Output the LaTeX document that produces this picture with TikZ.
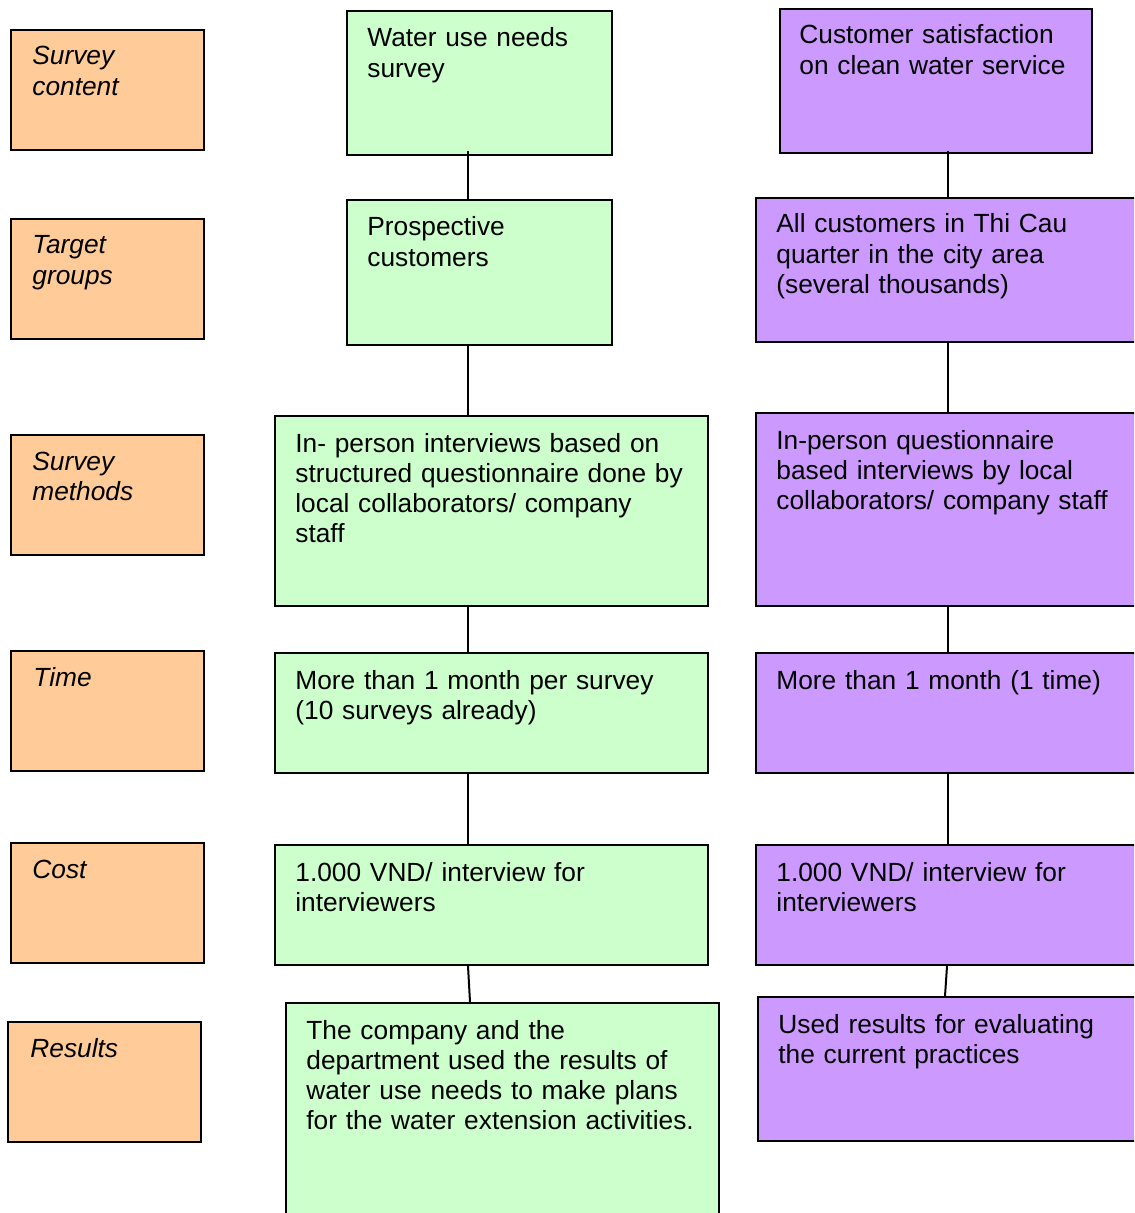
\documentclass[tikz,border=0pt]{standalone}
\usepackage{fontspec}
\setmainfont{Liberation Sans}
\usetikzlibrary{fit,calc}
\definecolor{rowhead}{HTML}{FFCC99}
\definecolor{needs}{HTML}{CCFFCC}
\definecolor{satis}{HTML}{CC99FF}
\begin{document}
\begin{tikzpicture}[x=0.5pt,y=-0.5pt,
  cell/.style={draw=black, line width=1pt, inner sep=0pt},
  head/.style={cell, fill=rowhead},
  gbox/.style={cell, fill=needs},
  pbox/.style={cell, fill=satis},
  txt/.style={anchor=base west, inner sep=0pt, text width=300pt, align=left,
    font=\fontsize{13.15pt}{15.15pt}\selectfont},
  itxt/.style={txt, font=\fontsize{13.15pt}{15.15pt}\selectfont\itshape},
  link/.style={draw=black, line width=1pt}]
\clip (0,0) rectangle (1134,1213);
\fill[white] (0,0) rectangle (1134,1213);

% row headings
\node[head, fit={(11,30) (204,150)}]   (h1) {};
\node[head, fit={(11,219) (204,339)}]  (h2) {};
\node[head, fit={(11,435) (204,555)}]  (h3) {};
\node[head, fit={(11,651) (204,771)}]  (h4) {};
\node[head, fit={(11,843) (204,963)}]  (h5) {};
\node[head, fit={(8,1022) (201,1142)}] (h6) {};
\node[itxt] (h1t) at ($(h1.north west)+(22,36)$) {Survey\\content};
\node[itxt] (h2t) at ($(h2.north west)+(22,36)$) {Target\\groups};
\node[itxt] (h3t) at ($(h3.north west)+(22,36)$) {Survey\\methods};
\node[itxt] (h4t) at ($(h4.north west)+(23,36)$) {Time};
\node[itxt] (h5t) at ($(h5.north west)+(22,36)$) {Cost};
\node[itxt] (h6t) at ($(h6.north west)+(23,36)$) {Results};

% water use needs survey
\node[gbox, fit={(347,11) (612,155)}]   (g1) {};
\node[gbox, fit={(347,200) (612,345)}]  (g2) {};
\node[gbox, fit={(275,416) (708,606)}]  (g3) {};
\node[gbox, fit={(275,653) (708,773)}]  (g4) {};
\node[gbox, fit={(275,845) (708,965)}]  (g5) {};
\node[gbox, fit={(286,1003) (719,1230)}] (g6) {};
\node[txt] (g1t) at ($(g1.north west)+(21,37)$) {Water use needs\\survey};
\node[txt] (g2t) at ($(g2.north west)+(21,37)$) {Prospective\\customers};
\node[txt] (g3t) at ($(g3.north west)+(21,37)$) {In- person interviews based on\\structured questionnaire done by\\local collaborators/ company\\staff};
\node[txt] (g4t) at ($(g4.north west)+(21,37)$) {More than 1 month per survey\\(10 surveys already)};
\node[txt] (g5t) at ($(g5.north west)+(21,37)$) {1.000 VND/ interview for\\interviewers};
\node[txt] (g6t) at ($(g6.north west)+(21,37)$) {The company and the\\department used the results of\\water use needs to make plans\\for the water extension activities.};

% customer satisfaction survey
\node[pbox, fit={(780,9) (1092,153)}]    (p1) {};
\node[pbox, fit={(756,198) (1150,342)}]  (p2) {};
\node[pbox, fit={(756,413) (1150,606)}]  (p3) {};
\node[pbox, fit={(756,653) (1150,773)}]  (p4) {};
\node[pbox, fit={(756,845) (1150,965)}]  (p5) {};
\node[pbox, fit={(758,997) (1150,1141)}] (p6) {};
\node[txt] (p1t) at ($(p1.north west)+(20,36)$) {Customer satisfaction\\on clean water service};
\node[txt] (p2t) at ($(p2.north west)+(21,36)$) {All customers in Thi Cau\\quarter in the city area\\(several thousands)};
\node[txt] (p3t) at ($(p3.north west)+(21,37)$) {In-person questionnaire\\based interviews by local\\collaborators/ company staff};
\node[txt] (p4t) at ($(p4.north west)+(21,37)$) {More than 1 month (1 time)};
\node[txt] (p5t) at ($(p5.north west)+(21,37)$) {1.000 VND/ interview for\\interviewers};
\node[txt] (p6t) at ($(p6.north west)+(21,37)$) {Used results for evaluating\\the current practices};

% connector columns
\coordinate (gx)  at (468,0);
\coordinate (gx2) at (470,0);
\coordinate (px)  at (948,0);
\coordinate (px2) at (947,0);
\coordinate (px3) at (945,0);

\draw[link, shorten <=-2.5pt] (g1.south -| gx) -- (g2.north -| gx);
\draw[link] (g2.south -| gx) -- (g3.north -| gx);
\draw[link] (g3.south -| gx) -- (g4.north -| gx);
\draw[link] (g4.south -| gx) -- (g5.north -| gx);
\draw[link, shorten >=-1pt] (g5.south -| gx) -- (g6.north -| gx2);

\draw[link, shorten <=-1.5pt] (p1.south -| px) -- (p2.north -| px);
\draw[link] (p2.south -| px) -- (p3.north -| px);
\draw[link] (p3.south -| px) -- (p4.north -| px);
\draw[link] (p4.south -| px) -- (p5.north -| px);
\draw[link] (p5.south -| px2) -- (p6.north -| px3);
\end{tikzpicture}
\end{document}
